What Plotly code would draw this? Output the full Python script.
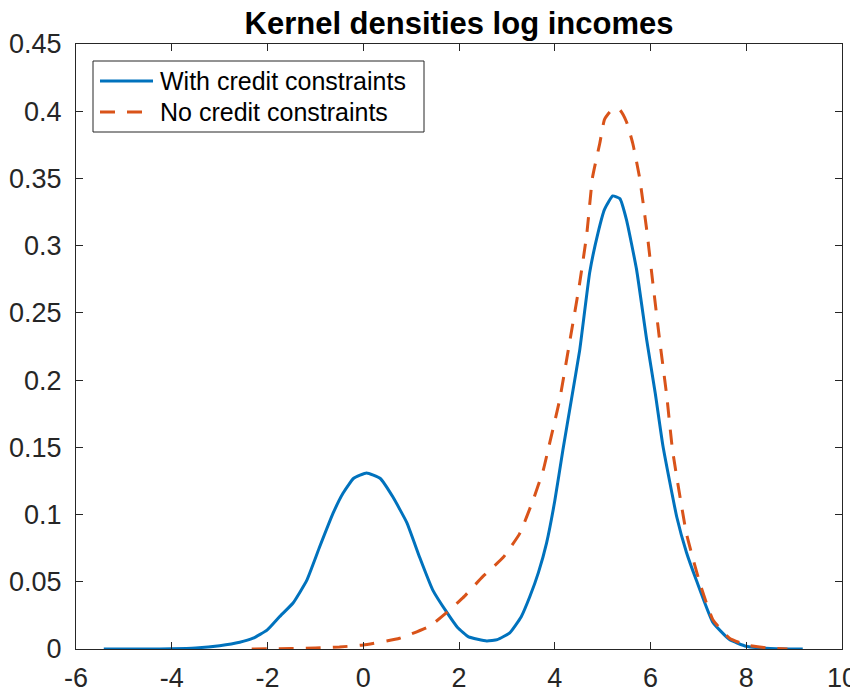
import plotly.graph_objects as go

# With credit constraints
x_with = [-5.42, -4.5, -4.0, -3.5, -3.0, -2.58, -2.3, -2.01, -1.75, -1.47, -1.18, -0.91, -0.63, -0.42, -0.2, 0.07, 0.35, 0.62, 0.91, 1.18, 1.45, 1.75, 1.97, 2.2, 2.58, 2.8, 3.06, 3.3, 3.48, 3.66, 3.83, 4.0, 4.17, 4.35, 4.52, 4.73, 4.9, 5.04, 5.21, 5.36, 5.5, 5.71, 5.92, 6.1, 6.26, 6.55, 6.75, 6.96, 7.3, 7.65, 8.0, 8.5, 9.18]
y_with = [0, 0, 0.0002, 0.0008, 0.0025, 0.005, 0.008, 0.014, 0.024, 0.034, 0.051, 0.076, 0.101, 0.116, 0.127, 0.131, 0.127, 0.113, 0.094, 0.068, 0.044, 0.027, 0.016, 0.009, 0.006, 0.007, 0.012, 0.024, 0.039, 0.057, 0.079, 0.11, 0.148, 0.186, 0.222, 0.28, 0.309, 0.327, 0.337, 0.335, 0.319, 0.282, 0.23, 0.19, 0.151, 0.098, 0.072, 0.051, 0.020, 0.007, 0.002, 0.0004, 0]

# No credit constraints
x_no = [-2.33, -1.5, -1.0, -0.5, 0.0, 0.76, 1.39, 1.74, 2.08, 2.5, 2.92, 3.27, 3.55, 3.76, 3.86, 4.1, 4.31, 4.52, 4.67, 4.79, 4.94, 5.04, 5.19, 5.36, 5.5, 5.63, 5.77, 5.92, 6.05, 6.19, 6.34, 6.46, 6.75, 7.03, 7.3, 7.65, 8.0, 8.4, 8.86]
y_no = [0, 0.0003, 0.0008, 0.0015, 0.003, 0.008, 0.017, 0.027, 0.038, 0.054, 0.068, 0.086, 0.111, 0.133, 0.148, 0.185, 0.228, 0.272, 0.309, 0.351, 0.376, 0.394, 0.401, 0.401, 0.392, 0.376, 0.351, 0.312, 0.272, 0.23, 0.188, 0.148, 0.086, 0.049, 0.022, 0.008, 0.003, 0.001, 0]

x_ticks = [-6, -4, -2, 0, 2, 4, 6, 8, 10]
x_tick_labels = ["-6", "-4", "-2", "0", "2", "4", "6", "8", "10"]
y_ticks = [0, 0.05, 0.1, 0.15, 0.2, 0.25, 0.3, 0.35, 0.4, 0.45]
y_tick_labels = ["0", "0.05", "0.1", "0.15", "0.2", "0.25", "0.3", "0.35", "0.4", "0.45"]

series_names = ["With credit constraints", "No credit constraints"]
series_colors = ["#0072BD", "#D95319"]
series_dashes = ["solid", "15px,12px"]

FONT = "Liberation Sans, Arial, Helvetica, sans-serif"
AX = "#262626"

fig = go.Figure()
fig.add_trace(go.Scatter(x=x_with, y=y_with, mode="lines", name=series_names[0], showlegend=False,
                         line=dict(color=series_colors[0], width=3, dash=series_dashes[0],
                                   shape="spline", smoothing=0.4)))
fig.add_trace(go.Scatter(x=x_no, y=y_no, mode="lines", name=series_names[1], showlegend=False,
                         line=dict(color=series_colors[1], width=3, dash=series_dashes[1],
                                   shape="spline", smoothing=0.4)))

axis_common = dict(showline=True, linecolor=AX, linewidth=1, mirror="ticks", ticks="inside",
                   ticklen=7, tickcolor=AX, showgrid=False, zeroline=False, automargin=False,
                   tickfont=dict(family=FONT, size=27, color=AX))

# The page has an 8px body margin; margins compensate so the plot area lands where intended.
OFF = 8
FW, FH = 858, 688
# Plot area in page pixel coordinates
L, R, T, B = 76, 842, 44, 649
W, H = R - L, B - T
def px(v):
    return (v - L) / W
def py(v):
    return (B - v) / H

shapes = [dict(type="rect", xref="paper", yref="paper", x0=px(93), x1=px(424), y0=py(132), y1=py(61),
               line=dict(color=AX, width=1), fillcolor="white", layer="above")]
annotations = []
for i, (name, col, dsh) in enumerate(zip(series_names, series_colors, series_dashes)):
    yy = py(81 + 31 * i)
    shapes.append(dict(type="line", xref="paper", yref="paper", x0=px(100), x1=px(153), y0=yy, y1=yy,
                       line=dict(color=col, width=3, dash=dsh), layer="above"))
    annotations.append(dict(text=name, xref="paper", yref="paper", x=px(158), y=yy, xanchor="left",
                            yanchor="middle", showarrow=False, font=dict(family=FONT, size=25, color="black")))

fig.update_layout(
    width=FW, height=FH,
    margin=dict(l=L - OFF, r=FW - (R - OFF), t=T - OFF, b=FH - (B - OFF)),
    plot_bgcolor="white", paper_bgcolor="white",
    title=dict(text="<b>Kernel densities log incomes</b>", x=((L + R) / 2 - OFF) / FW, xanchor="center",
               y=1 - (23 - OFF) / FH, yanchor="middle", yref="container",
               font=dict(family=FONT, size=31, color="black")),
    xaxis=dict(range=[-6, 10], tickvals=x_ticks, ticktext=x_tick_labels, ticklabelstandoff=5, **axis_common),
    yaxis=dict(range=[0, 0.45], tickvals=y_ticks, ticktext=y_tick_labels, ticklabelstandoff=8, **axis_common),
    shapes=shapes,
    annotations=annotations,
)

fig.write_html("out.html")
